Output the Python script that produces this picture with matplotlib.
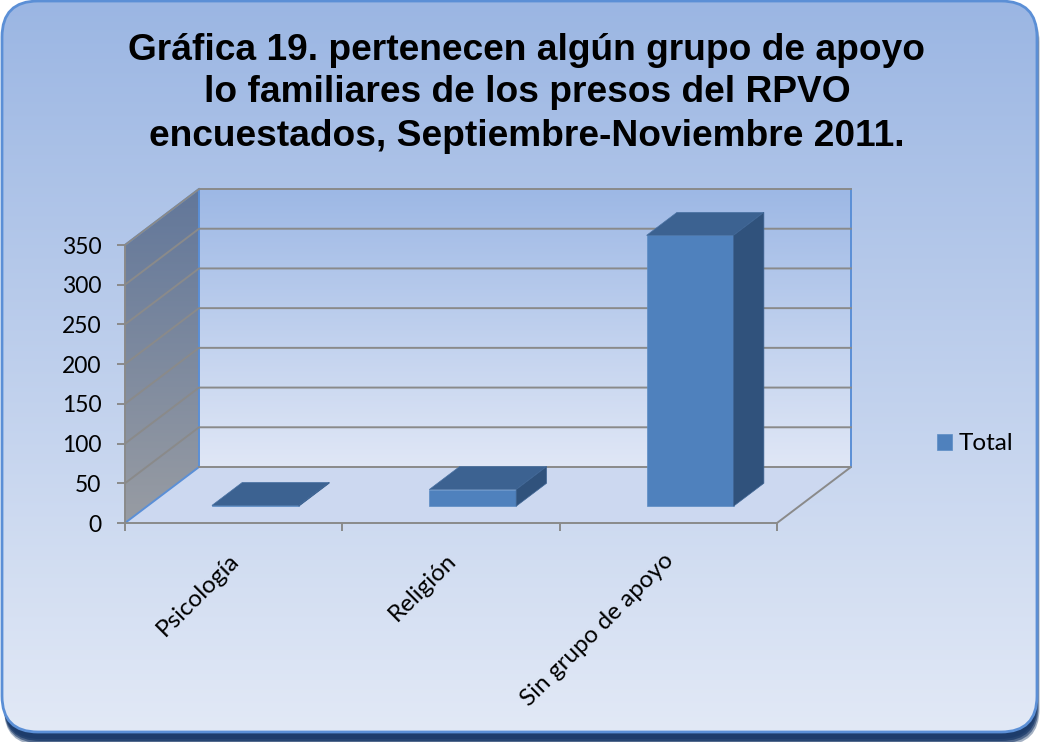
import numpy as np
import matplotlib
matplotlib.use("Agg")
import matplotlib.pyplot as plt
from matplotlib.colors import LinearSegmentedColormap
from matplotlib.patches import FancyBboxPatch, Polygon

# Data
categories = ["Psicología", "Religión", "Sin grupo de apoyo"]
totals = [1, 21, 341]
y_ticks = [0, 50, 100, 150, 200, 250, 300, 350]
title_lines = [
    "Gráfica 19. pertenecen algún grupo de apoyo",
    "lo familiares de los presos del RPVO",
    "encuestados, Septiembre-Noviembre 2011.",
]

W, H = 1040, 742
GRID = "#8A8A8A"
EDGE = "#5B8FD6"

# front plane of the fake 3D box, in pixels
LEFT, RIGHT, TOP, BOTTOM = 125, 777, 245, 523
DEPTH_X, DEPTH_Y = 74, 56

px_per_cat = (RIGHT - LEFT) / len(categories)
px_per_unit = (BOTTOM - TOP) / y_ticks[-1]


def project(x, val, depth):
    """Front plane data coords -> data coords shifted back in depth (0..1)."""
    return x + depth * DEPTH_X / px_per_cat, val + depth * DEPTH_Y / px_per_unit


def gradient(ax, extent, top, bottom, clip):
    cmap = LinearSegmentedColormap.from_list("g", [top, bottom])
    img = ax.imshow(np.linspace(0, 1, 256).reshape(-1, 1), cmap=cmap, aspect="auto",
                    extent=extent, zorder=2)
    img.set_clip_path(clip)


fig = plt.figure(figsize=(W / 100, H / 100), dpi=100, facecolor="white")

# background layer in pixel coords
bg = fig.add_axes([0, 0, 1, 1])
bg.set_xlim(0, W)
bg.set_ylim(H, 0)
bg.axis("off")

# soft shadow under the panel
for grow, alpha in [(11, 0.4), (9, 0.6), (7, 0.8), (5, 0.9), (3, 1.0)]:
    bg.add_patch(FancyBboxPatch((4, 6), W - 8 + grow / 2 - 2, H - 14 + grow,
                                boxstyle="round,pad=0,rounding_size=36",
                                fc="#1D3C6B", ec="none", alpha=alpha, zorder=1))

panel = FancyBboxPatch((2, 1), W - 5, H - 11, boxstyle="round,pad=0,rounding_size=36",
                       fc="none", ec="none", zorder=2)
bg.add_patch(panel)
gradient(bg, (0, W, H - 9, 0), "#9BB6E3", "#E2E9F6", panel)
bg.add_patch(FancyBboxPatch((2, 1), W - 5, H - 11, boxstyle="round,pad=0,rounding_size=36",
                            fc="none", ec=EDGE, lw=2, zorder=3))

# floor, side wall and back wall
floor_pts = [(LEFT, BOTTOM), (LEFT + DEPTH_X, BOTTOM - DEPTH_Y),
             (RIGHT + DEPTH_X, BOTTOM - DEPTH_Y), (RIGHT, BOTTOM)]
bg.add_patch(Polygon(floor_pts, fc="#CCD8F0", ec="none", zorder=2))

back_h = BOTTOM - TOP
back_top = BOTTOM - DEPTH_Y - back_h
back_pts = [(LEFT + DEPTH_X, back_top), (RIGHT + DEPTH_X, back_top),
            (RIGHT + DEPTH_X, BOTTOM - DEPTH_Y), (LEFT + DEPTH_X, BOTTOM - DEPTH_Y)]
back = Polygon(back_pts, fc="none", ec="none", zorder=2)
bg.add_patch(back)
gradient(bg, (LEFT + DEPTH_X, RIGHT + DEPTH_X, BOTTOM - DEPTH_Y, back_top),
         "#9DB8E5", "#E0E7F6", back)

side_pts = [(LEFT, TOP), (LEFT + DEPTH_X, back_top),
            (LEFT + DEPTH_X, BOTTOM - DEPTH_Y), (LEFT, BOTTOM)]
side = Polygon(side_pts, fc="none", ec="none", zorder=2)
bg.add_patch(side)
gradient(bg, (LEFT, LEFT + DEPTH_X, BOTTOM, back_top), "#62779A", "#989CA3", side)

for a, b in [(back_pts[1], back_pts[2]), (back_pts[0], back_pts[3]),
             (side_pts[0], side_pts[1]), (side_pts[3], side_pts[2])]:
    bg.plot([a[0], b[0]], [a[1], b[1]], color=EDGE, lw=1.4, zorder=4)

# title
for line, y in zip(title_lines, [51, 93, 137]):
    bg.text(527, y, line, ha="center", va="center", fontsize=26.7, fontweight="bold",
            family="Liberation Sans", color="black", zorder=5)

# chart layer, front plane on the real axes
ax = fig.add_axes([LEFT / W, 1 - BOTTOM / H, (RIGHT - LEFT) / W, (BOTTOM - TOP) / H])
ax.patch.set_alpha(0)
ax.set_xlim(0, len(categories))
ax.set_ylim(0, y_ticks[-1])

for val in y_ticks[1:]:
    xs, ys = zip(project(0, val, 0), project(0, val, 1), project(len(categories), val, 1))
    ax.plot(xs, ys, color=GRID, lw=1.4, clip_on=False, zorder=1)
xs, ys = zip(project(0, 0, 1), project(len(categories), 0, 1), project(len(categories), 0, 0))
ax.plot(xs, ys, color=GRID, lw=1.4, clip_on=False, zorder=1)

# bars: front face plus projected top and side
bar_left = 0.40
bar_w = 0.40
d0, d1 = 0.30, 0.71
positions = np.arange(len(categories)) + bar_left
base = project(0, 0, d0)[1]
bars = ax.bar(positions, totals, width=bar_w, bottom=base, align="edge", color="#4F81BD",
              ec="#5C8CC4", lw=0.5, zorder=3, clip_on=False, label="Total")

shift = project(0, 0, d1 - d0)
for x0, v in zip(positions, totals):
    x1 = x0 + bar_w
    top = base + v
    ax.add_patch(Polygon([(x0, top), (x1, top), (x1 + shift[0], top + shift[1]),
                          (x0 + shift[0], top + shift[1])],
                         fc="#3C6291", ec="#4A72A3", lw=0.5, zorder=4, clip_on=False))
    ax.add_patch(Polygon([(x1, base), (x1, top), (x1 + shift[0], top + shift[1]),
                          (x1 + shift[0], base + shift[1])],
                         fc="#30527C", ec="#3F6594", lw=0.5, zorder=4, clip_on=False))

ax.set_yticks(y_ticks)
ax.set_xticks(range(len(categories) + 1))
ax.set_xticklabels([])
ax.tick_params(axis="both", length=6, width=1.4, color=GRID, labelcolor="black")
ax.tick_params(axis="y", labelsize=16.5, pad=11)
for lab in ax.get_yticklabels():
    lab.set_family("Lato")
for name in ["top", "right"]:
    ax.spines[name].set_visible(False)
for name in ["left", "bottom"]:
    ax.spines[name].set_color(GRID)
    ax.spines[name].set_linewidth(1.4)

# rotated category labels
for i, cat in enumerate(categories):
    ax.annotate(cat, xy=(i + 0.5, 0), xytext=(-4, -19), textcoords="offset points",
                rotation=45, ha="right", va="top", rotation_mode="anchor",
                fontsize=17.5, family="Lato", color="black", annotation_clip=False)

fig.legend(handles=[bars], labels=["Total"], loc="center left", bbox_to_anchor=(937 / W, 1 - 444 / H),
           frameon=False, handlelength=0.6, handleheight=0.6, handletextpad=0.28,
           prop={"family": "Lato", "size": 17.5}, borderpad=0, borderaxespad=0)

fig.savefig("out.png", dpi=100, facecolor="white")
